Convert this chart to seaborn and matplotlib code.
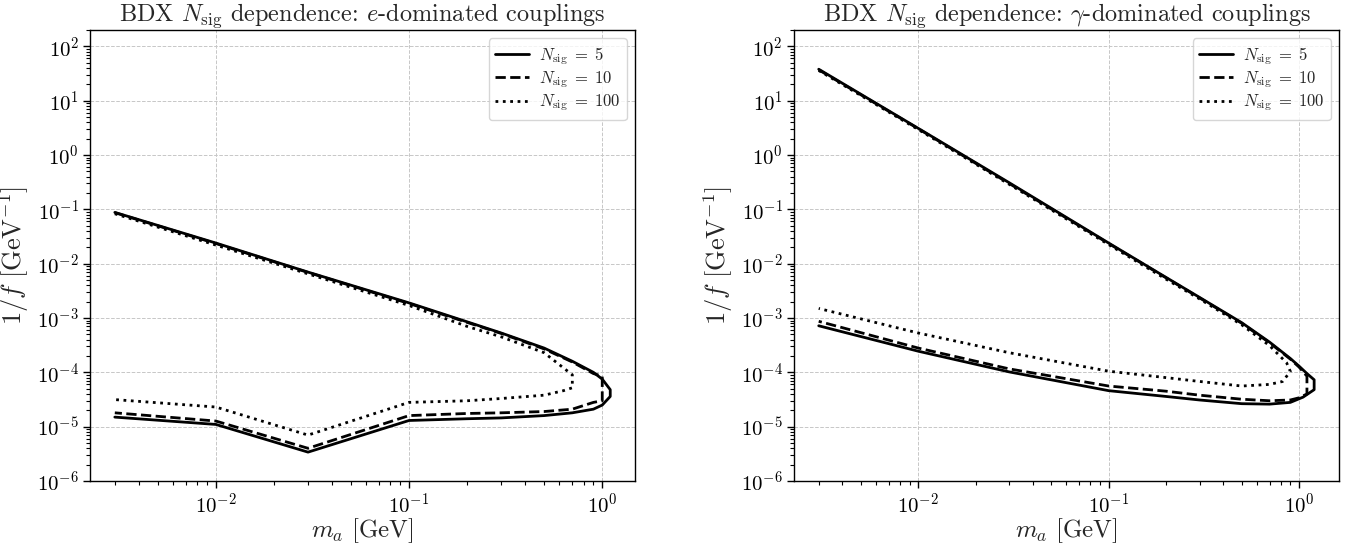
import numpy as np
import pandas as pd
import matplotlib
matplotlib.use("Agg")
import matplotlib.pyplot as plt
import seaborn as sns

# --- e-dominated couplings: closed sensitivity contours (upper branch, then lower branch back) ---
e_mass_5 = [0.003, 0.01, 0.03, 0.1, 0.2, 0.3, 0.5, 0.7, 0.9, 1.0, 1.1,
            1.1, 1.0, 0.9, 0.7, 0.5, 0.3, 0.2, 0.1, 0.03, 0.01, 0.003]
e_coup_5 = [8.8e-2, 2.4e-2, 7.0e-3, 1.9e-3, 8.5e-4, 5.3e-4, 2.8e-4, 1.6e-4, 1.0e-4, 7.5e-5, 4.8e-5,
            3.6e-5, 2.5e-5, 2.1e-5, 1.8e-5, 1.6e-5, 1.45e-5, 1.4e-5, 1.3e-5, 3.4e-6, 1.1e-5, 1.5e-5]

e_mass_10 = [0.003, 0.01, 0.03, 0.1, 0.2, 0.3, 0.5, 0.7, 0.9, 1.0,
             1.0, 0.9, 0.7, 0.5, 0.3, 0.2, 0.1, 0.03, 0.01, 0.003]
e_coup_10 = [8.7e-2, 2.35e-2, 6.9e-3, 1.85e-3, 8.3e-4, 5.2e-4, 2.7e-4, 1.55e-4, 9.5e-5, 8.5e-5,
             3.0e-5, 2.8e-5, 2.1e-5, 1.9e-5, 1.8e-5, 1.75e-5, 1.6e-5, 4.0e-6, 1.27e-5, 1.8e-5]

e_mass_100 = [0.003, 0.01, 0.03, 0.1, 0.2, 0.3, 0.5, 0.7,
              0.7, 0.63, 0.5, 0.3, 0.2, 0.1, 0.03, 0.01, 0.003]
e_coup_100 = [8.3e-2, 2.2e-2, 6.5e-3, 1.7e-3, 7.0e-4, 4.5e-4, 2.3e-4, 9.0e-5,
              5.2e-5, 4.6e-5, 3.8e-5, 3.3e-5, 3.0e-5, 2.8e-5, 7.0e-6, 2.3e-5, 3.15e-5]

# --- gamma-dominated couplings ---
g_mass_5 = [0.003, 0.01, 0.03, 0.1, 0.2, 0.3, 0.5, 0.7, 0.9, 1.0, 1.1, 1.2,
            1.2, 1.05, 0.9, 0.7, 0.5, 0.3, 0.2, 0.1, 0.03, 0.01, 0.003]
g_coup_5 = [38.0, 3.1, 0.31, 2.4e-2, 5.6e-3, 2.4e-3, 8.2e-4, 3.6e-4, 1.8e-4, 1.3e-4, 9.5e-5, 7.3e-5,
            4.8e-5, 3.5e-5, 2.8e-5, 2.6e-5, 2.65e-5, 3.1e-5, 3.6e-5, 4.6e-5, 1.02e-4, 2.45e-4, 7.2e-4]

g_mass_10 = [0.003, 0.01, 0.03, 0.1, 0.2, 0.3, 0.5, 0.7, 0.9, 1.0, 1.1,
             1.1, 1.0, 0.9, 0.7, 0.5, 0.3, 0.2, 0.1, 0.03, 0.01, 0.003]
g_coup_10 = [37.0, 3.05, 0.30, 2.35e-2, 5.5e-3, 2.35e-3, 8.0e-4, 3.5e-4, 1.75e-4, 1.25e-4, 8.5e-5,
             4.0e-5, 3.4e-5, 3.1e-5, 3.0e-5, 3.2e-5, 3.8e-5, 4.5e-5, 5.6e-5, 1.16e-4, 2.8e-4, 8.7e-4]

g_mass_100 = [0.003, 0.01, 0.03, 0.1, 0.2, 0.3, 0.5, 0.7, 0.86, 0.9,
              0.82, 0.7, 0.5, 0.3, 0.2, 0.1, 0.03, 0.01, 0.003]
g_coup_100 = [36.0, 2.95, 0.29, 2.25e-2, 5.2e-3, 2.25e-3, 7.5e-4, 3.1e-4, 1.5e-4, 1.04e-4,
              6.8e-5, 6.0e-5, 5.6e-5, 6.8e-5, 8.0e-5, 1.05e-4, 2.3e-4, 5.3e-4, 1.5e-3]

n_sig = [5, 10, 100]
titles = [r"BDX $N_{\rm sig}$ dependence: $e$-dominated couplings",
          r"BDX $N_{\rm sig}$ dependence: $\gamma$-dominated couplings"]

panels = [
    [(e_mass_5, e_coup_5), (e_mass_10, e_coup_10), (e_mass_100, e_coup_100)],
    [(g_mass_5, g_coup_5), (g_mass_10, g_coup_10), (g_mass_100, g_coup_100)],
]
line_styles = ["-", "--", ":"]

sns.set_theme(style="ticks")
plt.rcParams.update({
    "font.family": "serif",
    "font.serif": ["cmr10", "DejaVu Serif"],
    "mathtext.fontset": "cm",
    "axes.formatter.use_mathtext": True,
    "axes.unicode_minus": False,
    "axes.edgecolor": "black",
    "axes.linewidth": 1.0,
    "xtick.direction": "out",
    "ytick.direction": "out",
    "xtick.color": "black",
    "ytick.color": "black",
})

fig = plt.figure(figsize=(13.56, 5.44), dpi=100)
ax_left = fig.add_axes([0.0664, 0.1158, 0.4019, 0.829])
ax_right = fig.add_axes([0.5855, 0.1158, 0.4019, 0.829])

for ax, curves, title in zip([ax_left, ax_right], panels, titles):
    for (mass, coup), n, ls in zip(curves, n_sig, line_styles):
        df = pd.DataFrame({"mass": mass, "coupling": coup})
        sns.lineplot(data=df, x="mass", y="coupling", sort=False, estimator=None,
                     color="black", linestyle=ls, linewidth=2.0,
                     label=rf"$N_{{\rm sig}}\;=\;{n}$", ax=ax)
    ax.set_xscale("log")
    ax.set_yscale("log")
    ax.set_ylim(1e-6, 2e2)
    ax.set_yticks([10.0 ** k for k in range(-6, 3)])
    ax.grid(True, which="major", linestyle="--", color="0.78", linewidth=0.7)
    ax.set_xlabel(r"$m_a\ [\mathrm{GeV}]$", fontsize=18, labelpad=0)
    ax.set_ylabel(r"$1/f\ [\mathrm{GeV}^{-1}]$", fontsize=19, labelpad=4)
    ax.set_title(title, fontsize=17.5, pad=5)
    ax.tick_params(which="major", length=5, width=1.0, labelsize=15, pad=3)
    ax.tick_params(which="minor", length=3, width=0.8)
    ax.legend(loc="upper right", fontsize=12, frameon=True, fancybox=True,
              edgecolor="0.8", handlelength=2.0, labelspacing=0.15,
              borderpad=0.4, handletextpad=0.6, borderaxespad=0.5)

fig.savefig("out.png", dpi=100)
